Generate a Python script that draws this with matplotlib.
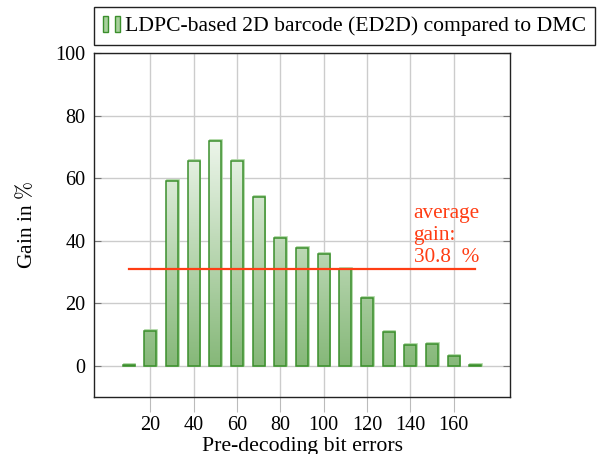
import numpy as np
import matplotlib
matplotlib.use("Agg")
import matplotlib.pyplot as plt
from matplotlib.patches import Rectangle
from matplotlib.colors import LinearSegmentedColormap
from matplotlib.legend_handler import HandlerTuple

# data
bit_errors = [10, 20, 30, 40, 50, 60, 70, 80, 90, 100, 110, 120, 130, 140, 150, 160, 170]
gain = [0.1, 11.1, 59.1, 65.6, 71.8, 65.6, 54.0, 40.8, 37.6, 35.8, 30.9, 21.8, 10.8, 6.6, 7.0, 3.1, 0.3]
average_gain = 30.8
legend_label = "LDPC-based 2D barcode (ED2D) compared to DMC"

plt.rcParams["font.family"] = ["Liberation Serif", "DejaVu Serif"]
plt.rcParams["mathtext.fontset"] = "cm"

edge = "#3b8f2c"
red = "#ff3d14"
cmap = LinearSegmentedColormap.from_list("g", ["#86b879", "#ecf5ea"])

fig = plt.figure(figsize=(5.98, 4.54), dpi=100)
ax = fig.add_axes([94 / 598, 1 - 397 / 454, 416 / 598, 344 / 454])

width = 5.5
top = 72.0
for x, h in zip(bit_errors, gain):
    grad = np.linspace(0, h / top, 100).reshape(-1, 1)
    ax.imshow(grad, cmap=cmap, vmin=0, vmax=1, origin="lower", aspect="auto",
              extent=[x - width / 2, x + width / 2, 0, h], zorder=2, interpolation="bilinear")
    # faint light shadow offset, like the reference
    ax.add_patch(Rectangle((x - width / 2 + 0.4, 0), width, h + 0.3, fill=False,
                           edgecolor="#a9d49e", lw=1.2, zorder=1.9))
    ax.add_patch(Rectangle((x - width / 2, 0), width, h, fill=False,
                           edgecolor=edge, lw=1.1, zorder=3))

ax.plot([bit_errors[0], bit_errors[-1]], [average_gain, average_gain], color=red, lw=1.6, zorder=4)
ax.text(141.5, 31.6, "average\ngain:\n30.8  %", color=red, fontsize=15.3,
        ha="left", va="bottom", linespacing=1.2, zorder=5)

ax.set_xlim(-6, 186)
ax.set_ylim(-10, 100)
ax.set_xticks(range(20, 161, 20))
ax.set_yticks(range(0, 101, 20))
ax.grid(True, color="#cccccc", lw=1.0, zorder=0)
ax.set_axisbelow(True)
ax.tick_params(axis="x", direction="out", length=11, color="#bbbbbb", labelsize=14.5, pad=3)
ax.tick_params(axis="y", direction="in", length=5, color="#777777", labelsize=14.5, right=True, pad=6)
for s in ax.spines.values():
    s.set_color("#222222")
    s.set_linewidth(1.0)

ax.set_xlabel("Pre-decoding bit errors", fontsize=15.7, labelpad=1)
ax.set_ylabel("Gain in $\\%$", fontsize=15.5, labelpad=13)

h1 = Rectangle((0, 0), 1, 1, facecolor="#a8d09c", edgecolor=edge, lw=1.0)
h2 = Rectangle((0, 0), 1, 1, facecolor="#a8d09c", edgecolor=edge, lw=1.0)
leg = ax.legend([(h1, h2)], [legend_label], loc="lower left", bbox_to_anchor=(0, 1.023),
                borderaxespad=0, fontsize=15.6, handler_map={tuple: HandlerTuple(ndivide=2, pad=0.32)},
                handlelength=0.8, handleheight=0.8, handletextpad=0.25, borderpad=0.4,
                fancybox=False, framealpha=1, edgecolor="#222222")
leg.get_frame().set_linewidth(1.0)

fig.savefig("out.png", dpi=100)
